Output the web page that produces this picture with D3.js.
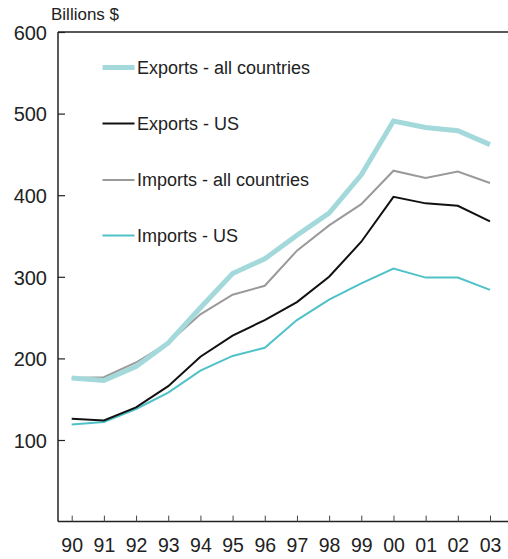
<!DOCTYPE html>
<html><head><meta charset="utf-8">
<script src="https://cdn.jsdelivr.net/npm/d3@7"></script>
<style>
html,body{margin:0;padding:0;background:#fff;}
svg text{font-family:"Liberation Sans",Arial,sans-serif;fill:#222;}
</style></head>
<body>
<svg id="c" width="508" height="559"></svg>
<script>
const years = ["90","91","92","93","94","95","96","97","98","99","00","01","02","03"];
const exportsAll = [176,173,190,219,262,304,322,351,378,425,491,483,479,462];
const exportsUS  = [126,124,140,166,202,228,247,269,300,343,398,390,387,368];
const importsAll = [176,177,195,219,254,278,289,332,363,389,430,421,429,415];
const importsUS  = [119,122,138,158,185,203,213,247,272,292,310,299,299,284];
const yTicks = [100,200,300,400,500,600];
const seriesNames = ["Exports - all countries","Exports - US","Imports - all countries","Imports - US"];
const seriesColors = ["#a4d9dc","#111111","#9a9a9a","#4fc1c8"];
const seriesWidths = [5,2,2,2];
const seriesValues = [exportsAll, exportsUS, importsAll, importsUS];

(function(){
const svg = d3.select("#c");
const pl = 58, pr = 508, pt = 32, pb = 521.6;
const x = d3.scalePoint().domain(years).range([71.7, 490]);
const y = d3.scaleLinear().domain([0,600]).range([pb, pt]);

svg.append("line").attr("x1",pl).attr("x2",pr).attr("y1",pt).attr("y2",pt)
  .attr("stroke","#222").attr("stroke-width",1.5);
svg.append("line").attr("x1",pl).attr("x2",pr).attr("y1",pb).attr("y2",pb)
  .attr("stroke","#222").attr("stroke-width",1.5);

const yAxis = svg.append("g").attr("transform",`translate(${pl},0)`)
  .call(d3.axisLeft(y).tickValues(yTicks).tickSizeInner(-7).tickSizeOuter(0).tickPadding(11));
yAxis.select(".domain").attr("stroke","#222").attr("stroke-width",1.5).attr("d",`M0,${pt}V${pb}`);
yAxis.selectAll(".tick line").attr("stroke","#222").attr("stroke-width",1.2);
yAxis.selectAll(".tick text").attr("font-size","20px").attr("fill","#222").style("font-family","Liberation Sans, Arial, sans-serif").attr("dy","0.36em");

const xAxis = svg.append("g").attr("transform",`translate(0,${pb})`)
  .call(d3.axisBottom(x).tickSizeInner(-6).tickSizeOuter(0).tickPadding(17));
xAxis.select(".domain").remove();
xAxis.selectAll(".tick line").attr("stroke","#444").attr("stroke-width",1);
xAxis.selectAll(".tick text").attr("font-size","19.5px").attr("fill","#222").style("font-family","Liberation Sans, Arial, sans-serif");

svg.append("text").attr("x",51).attr("y",20).attr("font-size","17px").text("Billions $");

const line = d3.line().x((d,i)=>x(years[i])).y(d=>y(d));
const order = [3,1,2,0];
order.forEach(k=>{
  svg.append("path").datum(seriesValues[k]).attr("d",line)
    .attr("fill","none").attr("stroke",seriesColors[k]).attr("stroke-width",seriesWidths[k])
    .attr("stroke-linejoin","miter");
});

const legY = [67.5,123.5,180,235.5];
seriesNames.forEach((n,i)=>{
  svg.append("line").attr("x1",102.5).attr("x2",134.5).attr("y1",legY[i]).attr("y2",legY[i])
    .attr("stroke",seriesColors[i]).attr("stroke-width",seriesWidths[i]);
  svg.append("text").attr("x",137).attr("y",legY[i]).attr("dy","0.36em").attr("font-size","18px").text(n);
});
})();
</script>
</body></html>
